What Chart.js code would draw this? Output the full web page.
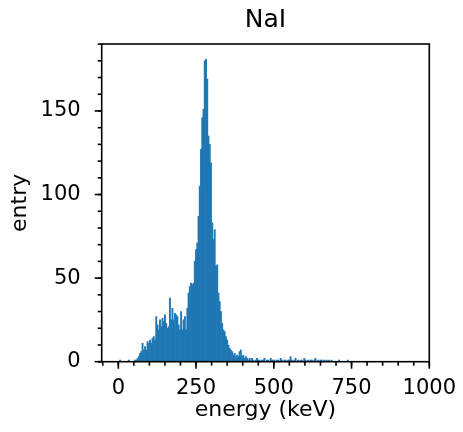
<!DOCTYPE html>
<html>
<head>
<meta charset="utf-8">
<script src="https://cdn.jsdelivr.net/npm/chart.js@4.4.1/dist/chart.umd.min.js"></script>
<style>
  html, body { margin: 0; padding: 0; background: #fff; }
  #c { display: block; }
</style>
</head>
<body>
<canvas id="c" width="463" height="432"></canvas>
<script>
// ---- data ----
const chartTitle = 'NaI';
const xLabel = 'energy (keV)';
const yLabel = 'entry';
const binLow = 0;      // keV, lower edge of first bin
const binWidth = 4;    // keV per bin
const counts = [
  0,1,0,0,0,0,0,0,1,0,
  0,0,0,1,1,
  2,3,5,6,11,
  7,9,7,12,11,
  13,11,14,15,13,
  27,22,19,25,21,
  26,24,28,23,20,
  21,38,25,32,25,
  29,28,27,22,19,
  30,19,25,27,19,
  32,41,45,47,46,
  47,60,67,71,87,
  105,127,146,151,180,
  181,169,135,130,119,
  83,73,79,57,58,
  41,36,30,23,19,
  18,15,13,10,8,
  7,6,4,5,3,
  4,3,6,7,3,
  4,2,3,2,1,
  2,1,2,1,0,1,2,1,1,0,1,1,2,0,1,1,0,2,1,1,
  1,0,1,1,0,2,1,0,1,1,0,1,1,3,1,0,1,2,0,1,0,1,1,0,2,1,0,1,0,1,1,0,1,2,0,1,0,1,1,0,1,0,1,0,1,
  0,1,0,0,0,0,0,1,0,0, 0,0,0,0,1,0,0,0,0,0,
  0,0,0,0,0,0,0,0,0,0, 0,0,0,0,0,0,0,0,0,0,
  0,0,0,0,0,0,0,0,0,0, 0,0,0,0,0,0,0,0,0,0,
  0,0,0,0,0,0,0,0,0,0, 0,0,0,0,0,0,0,0,0,0
];
const xMajorTicks = [0, 250, 500, 750, 1000];
const yMajorTicks = [0, 50, 100, 150];
const xMinorStep = 50;
const yMinorStep = 10;
const xRange = [-53.4, 1000];
const yRange = [0, 190.05];

// ---- build ----
const points = counts.map((c, i) => ({ x: binLow + binWidth * (i + 0.5), y: c }));
const FONT = 'DejaVu Sans';
const tickFont = { family: FONT, size: 21 };
const labelFont = { family: FONT, size: 22 };

const framePlugin = {
  id: 'frame',
  afterDraw(chart) {
    const { ctx, chartArea: a, scales: { x, y } } = chart;
    ctx.save();
    ctx.strokeStyle = '#000';
    ctx.lineWidth = 1.6;
    ctx.lineCap = 'butt';
    const drawX = (v, len) => {
      const p = x.getPixelForValue(v);
      if (p < a.left - 0.5 || p > a.right + 0.5) return;
      ctx.beginPath(); ctx.moveTo(p, a.bottom); ctx.lineTo(p, a.bottom + len); ctx.stroke();
    };
    const drawY = (v, len) => {
      const p = y.getPixelForValue(v);
      if (p < a.top - 0.5 || p > a.bottom + 0.5) return;
      ctx.beginPath(); ctx.moveTo(a.left, p); ctx.lineTo(a.left - len, p); ctx.stroke();
    };
    for (let v = Math.ceil(x.min / xMinorStep) * xMinorStep; v <= x.max; v += xMinorStep) drawX(v, 4);
    for (let v = Math.ceil(y.min / yMinorStep) * yMinorStep; v <= y.max; v += yMinorStep) drawY(v, 4);
    xMajorTicks.forEach(v => drawX(v, 7));
    yMajorTicks.forEach(v => drawY(v, 7));
    ctx.strokeRect(a.left, a.top, a.right - a.left, a.bottom - a.top);
    ctx.restore();
  }
};

new Chart(document.getElementById('c'), {
  type: 'bar',
  data: {
    datasets: [{
      data: points,
      backgroundColor: '#1f77b4',
      borderWidth: 0,
      barPercentage: 1,
      categoryPercentage: 1
    }]
  },
  options: {
    responsive: false,
    animation: false,
    devicePixelRatio: 1,
    layout: { padding: { left: 0, right: 33.7, top: 0, bottom: 0 } },
    plugins: {
      legend: { display: false },
      tooltip: { enabled: false },
      title: {
        display: true,
        fullSize: false,
        text: chartTitle,
        color: '#000',
        font: { family: FONT, size: 25, weight: 'normal', lineHeight: 1.2 },
        padding: { top: 5, bottom: 9 }
      }
    },
    scales: {
      x: {
        type: 'linear',
        min: xRange[0],
        max: xRange[1],
        offset: false,
        grid: { display: false, offset: false },
        border: { display: false },
        afterBuildTicks: s => { s.ticks = xMajorTicks.map(v => ({ value: v })); },
        afterFit: s => { s.height = 70.3; s.paddingRight = 0; s.paddingLeft = 0; },
        ticks: { color: '#000', font: tickFont, padding: 6, maxRotation: 0, autoSkip: false, callback: v => String(v) },
        title: { display: true, text: xLabel, color: '#000', font: labelFont, padding: { top: 0, bottom: 9 } }
      },
      y: {
        type: 'linear',
        min: yRange[0],
        max: yRange[1],
        grid: { display: false },
        border: { display: false },
        afterBuildTicks: s => { s.ticks = yMajorTicks.map(v => ({ value: v })); },
        afterFit: s => { s.width = 101.7; s.paddingTop = 0; s.paddingBottom = 0; },
        ticks: { color: '#000', font: tickFont, padding: 13, autoSkip: false, callback: v => String(v) },
        title: { display: true, text: yLabel, color: '#000', font: labelFont, padding: { top: 7, bottom: 0 } }
      }
    }
  },
  plugins: [framePlugin]
});
</script>
</body>
</html>
